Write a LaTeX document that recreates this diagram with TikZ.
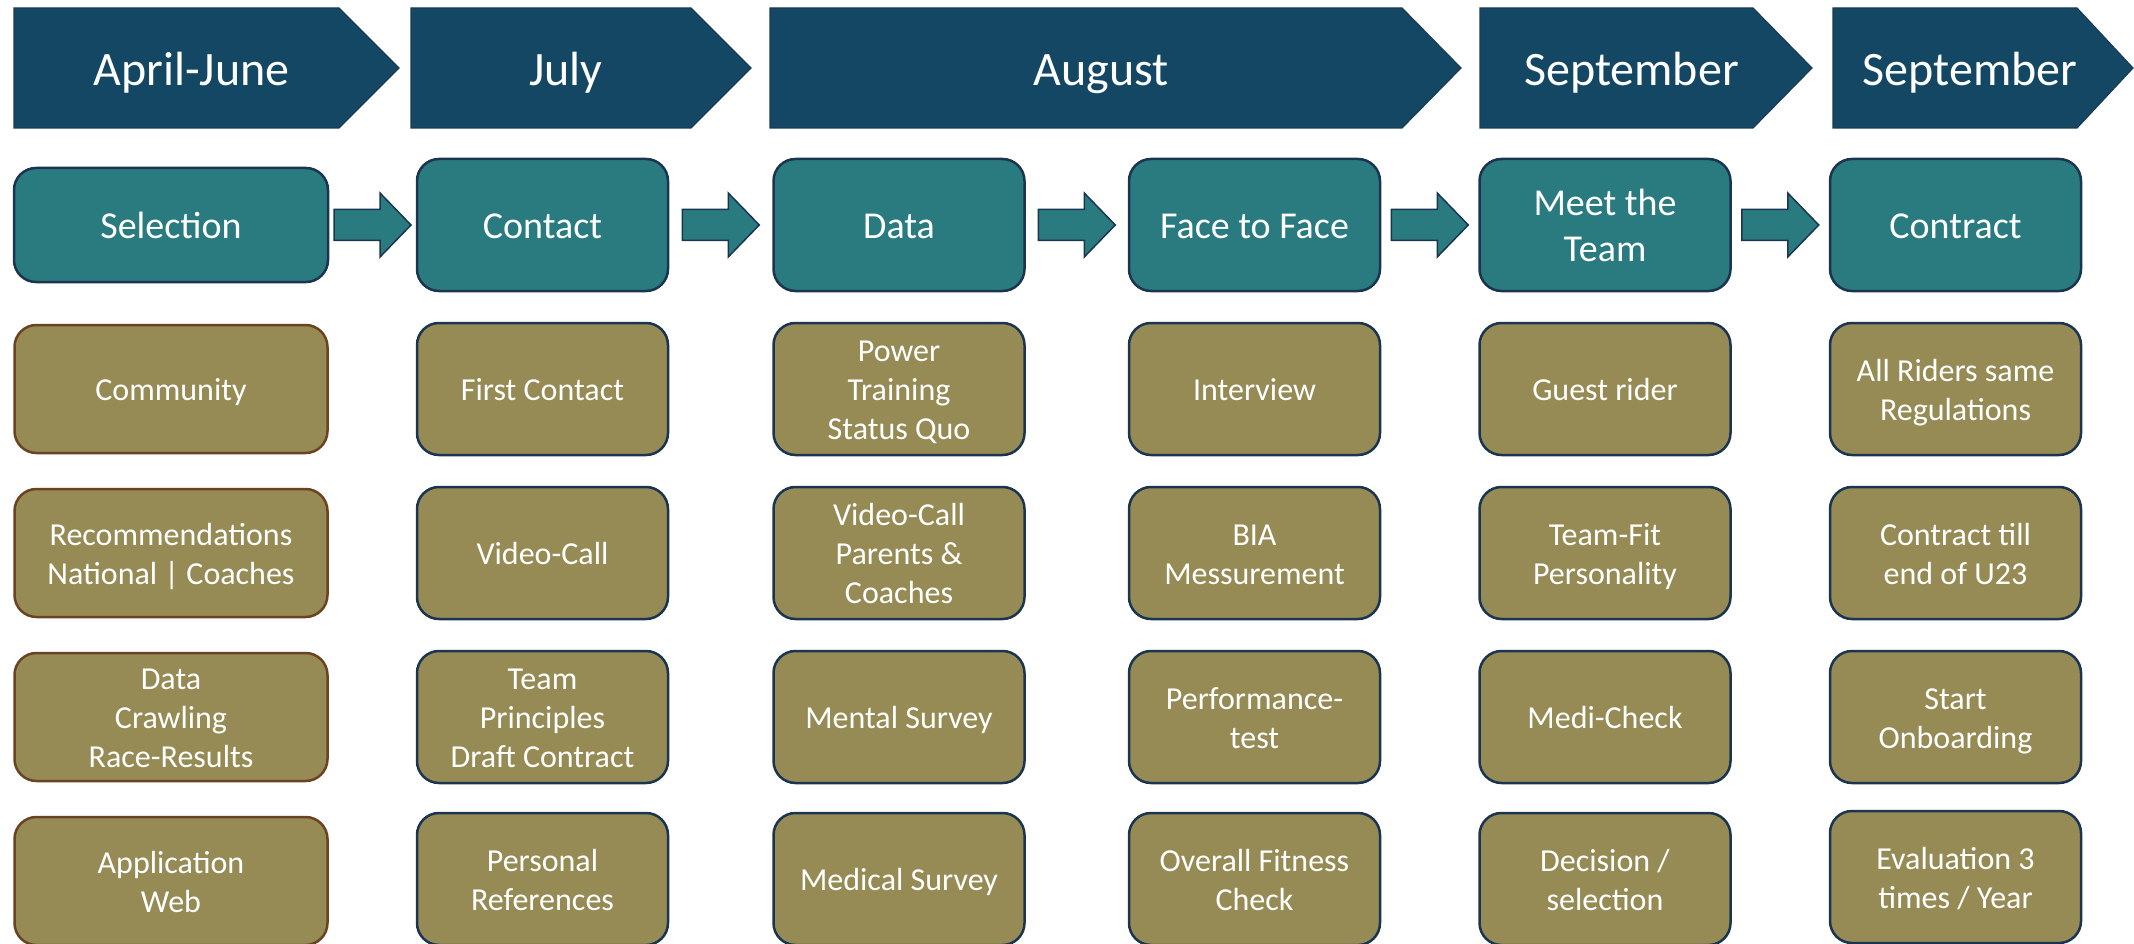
\documentclass[tikz,border=0pt]{standalone}
\usepackage{fontspec}
\setmainfont{Carlito}
\usetikzlibrary{calc}

\definecolor{monthblue}{HTML}{134763}
\definecolor{monthedge}{HTML}{1B3B55}
\definecolor{phaseteal}{HTML}{2A7B80}
\definecolor{taskolive}{HTML}{968B55}
\definecolor{boxedge}{HTML}{1B3450}
\definecolor{srcedge}{HTML}{6B4322}

% struts so that text sits like in the slide
\newcommand{\boxtopstrut}{\rule{0pt}{0.8\baselineskip}}
\newcommand{\boxbotstrut}{\rule[-0.2\baselineskip]{0pt}{0.2\baselineskip}}

\begin{document}
\begin{tikzpicture}[x=1pt,y=-1pt,
    boxtext/.style={text=white, align=center, inner sep=0pt,
        execute at begin node=\boxtopstrut, execute at end node=\boxbotstrut},
    monthtext/.style={boxtext, font=\fontsize{48}{58}\selectfont},
    phasebox/.style={boxtext, draw=boxedge, line width=2.5pt, fill=phaseteal,
        rounded corners=22pt, minimum width=251pt, minimum height=132pt,
        font=\fontsize{38}{46}\selectfont},
    taskbox/.style={boxtext, draw=boxedge, line width=2.5pt, fill=taskolive,
        rounded corners=22pt, minimum width=251pt, minimum height=132pt,
        font=\fontsize{32}{39}\selectfont},
    srcbox/.style={taskbox, draw=srcedge, minimum width=313pt, minimum height=128pt},
    flowarrow/.style={draw=boxedge, line width=1.5pt, fill=phaseteal, line join=miter}]

    \useasboundingbox (0,0) rectangle (2134,944);

    % Month bar
    \foreach \l/\b/\t/\nm/\txt in {14/339/399/apr/April-June, 411/691/751/jul/July,
        770/1402/1461/aug/August, 1480/1753/1812/sep/September, 1833/2077/2133/sepb/September}{
        \filldraw[fill=monthblue, draw=monthedge, line width=1.2pt]
            (\l,8) -- (\b,8) -- (\t,68) -- (\b,128) -- (\l,128) -- cycle;
        \pgfmathsetmacro{\tx}{(\l+\b)/2+15}
        \node[monthtext] (\nm) at (\tx,68) {\txt};
    }

    % Phases
    \node[phasebox, minimum width=314pt, minimum height=114pt] (sel) at (171,225) {Selection};
    \node[phasebox] (con) at (542.5,225) {Contact};
    \node[phasebox] (dat) at (899,225) {Data};
    \node[phasebox] (fac) at (1254.5,225) {Face to Face};
    \node[phasebox] (mee) at (1605,225) {\boxtopstrut Meet the\\Team};
    \node[phasebox] (ctr) at (1955.5,225) {Contract};

    % Arrows between phases
    \foreach \a/\b in {sel/con, con/dat, dat/fac, fac/mee, mee/ctr}
        \draw[flowarrow] ($(\a.east)!0.5!(\b.west)+(-38.5,-15.5)$) -- ++(46,0) -- ++(0,-16.5)
            -- ++(31,32) -- ++(-31,32) -- ++(0,-16.5) -- ++(-46,0) -- cycle;

    % Selection
    \node[srcbox] (com) at (171,389) {Community};
    \node[srcbox] (rec) at (171,553) {\boxtopstrut Recommendations\\National | Coaches};
    \node[srcbox] (crw) at (171,717) {\boxtopstrut Data\\Crawling\\Race-Results};
    \node[srcbox] (app) at (171,881) {\boxtopstrut Application\\Web};

    % Contact
    \node[taskbox] (fst) at (542.5,389) {First Contact};
    \node[taskbox] (vid) at (542.5,553) {Video-Call};
    \node[taskbox] (tpr) at (542.5,717) {\boxtopstrut Team\\Principles\\Draft Contract};
    \node[taskbox] (per) at (542.5,879) {\boxtopstrut Personal\\References};

    % Data
    \node[taskbox] (pow) at (899,389) {\boxtopstrut Power\\Training\\Status Quo};
    \node[taskbox] (vcp) at (899,553) {\boxtopstrut Video-Call\\Parents \&\\Coaches};
    \node[taskbox] (men) at (899,717) {Mental Survey};
    \node[taskbox] (med) at (899,879) {Medical Survey};

    % Face to Face
    \node[taskbox] (itv) at (1254.5,389) {Interview};
    \node[taskbox] (bia) at (1254.5,553) {\boxtopstrut BIA\\Messurement};
    \node[taskbox] (prf) at (1254.5,717) {\boxtopstrut Performance-\\test};
    \node[taskbox] (fit) at (1254.5,879) {\boxtopstrut Overall Fitness\\Check};

    % Meet the Team
    \node[taskbox] (gst) at (1605,389) {Guest rider};
    \node[taskbox] (tft) at (1605,553) {\boxtopstrut Team-Fit\\Personality};
    \node[taskbox] (mdc) at (1605,717) {Medi-Check};
    \node[taskbox] (dec) at (1605,879) {\boxtopstrut Decision /\\selection};

    % Contract
    \node[taskbox] (reg) at (1955.5,389) {\boxtopstrut All Riders same\\Regulations};
    \node[taskbox] (u23) at (1955.5,553) {\boxtopstrut Contract till\\end of U23};
    \node[taskbox] (onb) at (1955.5,717) {\boxtopstrut Start\\Onboarding};
    \node[taskbox] (eva) at (1955.5,877) {\boxtopstrut Evaluation 3\\times / Year};
\end{tikzpicture}
\end{document}
